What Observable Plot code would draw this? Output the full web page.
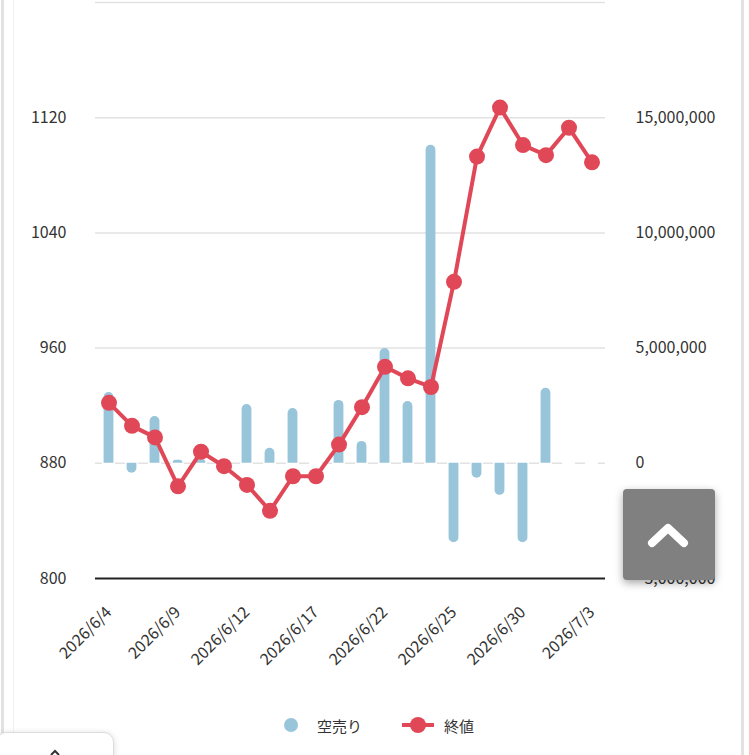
<!DOCTYPE html>
<html>
<head>
<meta charset="utf-8">
<script src="https://cdn.jsdelivr.net/npm/d3@7"></script>
<script src="https://cdn.jsdelivr.net/npm/@observablehq/plot@0.6"></script>
<style>
  html, body { margin: 0; padding: 0; background: #fff; }
  body { width: 749px; height: 755px; position: relative; overflow: hidden;
         font-family: "Noto Sans CJK JP", "Noto Sans", sans-serif; color: #333; }
  #chart { position: absolute; left: 0; top: 0; }
  .legend { position: absolute; top: 712px; left: 0; width: 749px; height: 28px; font-size: 15px; color: #333; }
  .legend .item { position: absolute; top: 0; height: 28px; line-height: 28px; }
  .edge { position: absolute; top: 0; height: 755px; }
  #totop { position: absolute; left: 623px; top: 489px; width: 92px; height: 91px; background: #808080;
           border-radius: 4px; box-shadow: 0 3px 8px rgba(0,0,0,0.35); }
  #boxbl { position: absolute; left: -4px; top: 732px; width: 116px; height: 60px; background: #fff;
           border: 1px solid #ddd; border-radius: 10px; box-shadow: 0 1px 6px rgba(0,0,0,0.15); }
</style>
</head>
<body>
<div class="edge" style="left:1px;width:3px;background:#e2e2e2"></div>
<div class="edge" style="left:13px;width:1px;background:#f2f2f2"></div>
<div class="edge" style="left:741px;width:3px;background:#e2e2e2"></div>
<div id="chart"></div>
<div class="legend">
  <svg class="item" style="left:280px" width="24" height="28"><circle cx="11" cy="13" r="7" fill="#99c5db"></circle></svg>
  <div class="item" style="left:317px">空売り</div>
  <svg class="item" style="left:400px" width="40" height="28"><line x1="2" x2="34" y1="13" y2="13" stroke="#e04858" stroke-width="4"></line><circle cx="18" cy="13" r="8" fill="#e04858"></circle></svg>
  <div class="item" style="left:444px">終値</div>
</div>
<div id="totop"><svg width="92" height="91"><polyline points="29,54 45,39 61,54" fill="none" stroke="#fff" stroke-width="8" stroke-linecap="round" stroke-linejoin="round"></polyline></svg></div>
<div id="boxbl"><svg width="116" height="30"><path d="M54,22 L58,18 L62,22" fill="none" stroke="#333" stroke-width="2"></path></svg></div>
<script>
const dates = ["2026/6/4","2026/6/5","2026/6/8","2026/6/9","2026/6/10","2026/6/11","2026/6/12","2026/6/15","2026/6/16","2026/6/17","2026/6/18","2026/6/19","2026/6/22","2026/6/23","2026/6/24","2026/6/25","2026/6/26","2026/6/29","2026/6/30","2026/7/1","2026/7/2","2026/7/3"];
const closeValues = [922, 906, 898, 864, 888, 878, 865, 847, 871, 871, 893, 919, 947, 939, 933, 1006, 1093, 1127, 1101, 1094, 1113, 1089];
const shortSales = [3070000, -430000, 2030000, 130000, 150000, 0, 2550000, 650000, 2380000, 0, 2730000, 950000, 4980000, 2680000, 13800000, -3450000, -650000, -1390000, -3450000, 3260000, 0, 0];
const tickDates = ["2026/6/4","2026/6/9","2026/6/12","2026/6/17","2026/6/22","2026/6/25","2026/6/30","2026/7/3"];
const leftTicks = [800, 880, 960, 1040, 1120];
const gridValues = [880, 960, 1040, 1120, 1200];
const rightTickLabels = [-5000000, 0, 5000000, 10000000, 15000000];

const seriesNames = ["空売り", "終値"];
const barColor = "#99c5db";
const lineColor = "#e04858";

// right axis (short sales) mapped onto the left (price) scale: 0 <-> 880, 5,000,000 per 80
const toLeft = v => 880 + v / 5000000 * 80;

const data = dates.map((d, i) => ({
  date: d,
  close: closeValues[i],
  shortSales: shortSales[i],
  top: toLeft(shortSales[i])
}));

const W = 749, H = 700;
const band = (W - 95 - 144) / dates.length;
const barW = 10;
const inset = (band - barW) / 2;

const chart = Plot.plot({
  width: W,
  height: H,
  marginLeft: 95,
  marginRight: 144,
  marginTop: 2,
  marginBottom: H - 578,
  style: { fontFamily: "'Noto Sans CJK JP', 'Noto Sans', sans-serif", fontSize: "16px", color: "#333", background: "transparent" },
  x: { type: "band", domain: dates, padding: 0 },
  y: { domain: [800, 1200] },
  marks: [
    Plot.ruleY(gridValues, { stroke: "#e2e2e2", strokeWidth: 1.5 }),
    Plot.barY(data, { x: "date", y1: toLeft(-70000), y2: toLeft(70000), fill: "#fff", insetLeft: inset - 1.5, insetRight: inset - 1.5 }),
    Plot.barY(data.filter(d => d.shortSales > 0), { x: "date", y1: 880, y2: "top", fill: barColor, insetLeft: inset, insetRight: inset, ry1: 5, shapeRendering: "geometricPrecision" }),
    Plot.barY(data.filter(d => d.shortSales < 0), { x: "date", y1: 880, y2: "top", fill: barColor, insetLeft: inset, insetRight: inset, ry2: 5, shapeRendering: "geometricPrecision" }),
    Plot.ruleY([800], { stroke: "#222", strokeWidth: 2 }),
    Plot.line(data, { x: "date", y: "close", stroke: lineColor, strokeWidth: 4 }),
    Plot.dot(data, { x: "date", y: "close", fill: lineColor, r: 8 }),
    Plot.axisY({ anchor: "left", ticks: leftTicks, tickSize: 0, tickPadding: 29, label: null, fill: "#333", tickFormat: d => String(d) }),
    Plot.axisY({ anchor: "right", ticks: rightTickLabels.map(toLeft), tickSize: 0, tickPadding: 30, label: null, fill: "#333",
      tickFormat: t => d3.format(",")(Math.round((t - 880) / 80 * 5000000)) }),
    Plot.axisX({ ticks: tickDates, tickSize: 0, tickPadding: 31, tickRotate: -45, label: null, fill: "#333" })
  ]
});
document.getElementById("chart").appendChild(chart);
</script>
</body>
</html>
